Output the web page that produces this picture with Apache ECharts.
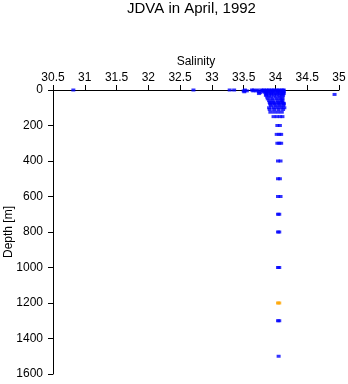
<!DOCTYPE html>
<html>
<head>
<meta charset="utf-8">
<script src="https://cdn.jsdelivr.net/npm/echarts@6/dist/echarts.min.js"></script>
<style>html,body{margin:0;padding:0;background:#fff}#c{width:348px;height:384px}</style>
</head>
<body>
<div id="c"></div>
<script>
// Salinity ticks and depth ticks
var salinityTicks = [30.5, 31, 31.5, 32, 32.5, 33, 33.5, 34, 34.5, 35];
var depthTicks = [0, 200, 400, 600, 800, 1000, 1200, 1400, 1600];

// Blue samples: [salinity, depth]
var blueSalinity = [
  30.82, 32.71, 33.28, 33.35, 33.52, 33.63, 33.66, 33.72, 33.78, 33.82, 33.86, 33.9, 33.94, 33.98, 34.02, 34.06, 34.1, 34.13,
  33.8, 33.88, 33.96, 34.04, 34.12,
  33.5, 33.55, 33.65, 33.7, 33.8, 33.85, 33.92, 34.0, 34.08, 34.12,
  33.51, 33.74, 33.82, 33.88, 33.95, 34.03, 34.1, 34.13,
  33.76, 33.84, 33.9, 33.97, 34.05, 34.12,
  33.74, 33.86, 33.93, 34.0, 34.07, 34.13,
  33.86, 33.94, 34.02, 34.1, 34.93,
  33.85, 33.9, 33.98, 34.06, 34.12,
  33.87, 33.93, 34.0, 34.06, 34.11,
  33.88, 33.95, 34.02, 34.08, 34.11,
  33.9, 33.96, 34.03, 34.09, 34.11,
  33.91, 33.97, 34.04, 34.1,
  33.92, 33.98, 34.05, 34.12, 34.13,
  33.92, 33.99, 34.06, 34.13,
  33.93, 34.0, 34.06, 34.12,
  33.9, 33.97, 34.03, 34.09, 34.14,
  33.91, 33.98, 34.05, 34.12,
  33.92, 33.98, 34.04, 34.1,
  33.97, 34.02, 34.07, 34.11,
  34.03, 34.07,
  34.02, 34.06, 34.09,
  34.03, 34.06, 34.09,
  34.04, 34.08,
  34.04, 34.07,
  34.04, 34.08,
  34.04, 34.06,
  34.04, 34.06,
  34.04, 34.06,
  34.04, 34.06,
  34.05
];
var blueDepth = [
  0, 0, 0, 0, 0, 0, 0, 0, 0, 0, 0, 0, 0, 0, 0, 0, 0, 0,
  2, 2, 2, 2, 2,
  5, 5, 5, 5, 5, 5, 5, 5, 5, 5,
  10, 10, 10, 10, 10, 10, 10, 10,
  15, 15, 15, 15, 15, 15,
  20, 20, 20, 20, 20, 20,
  25, 25, 25, 25, 25,
  30, 30, 30, 30, 30,
  40, 40, 40, 40, 40,
  50, 50, 50, 50, 50,
  60, 60, 60, 60, 60,
  70, 70, 70, 70,
  75, 75, 75, 75, 75,
  80, 80, 80, 80,
  90, 90, 90, 90,
  100, 100, 100, 100, 100,
  110, 110, 110, 110,
  125, 125, 125, 125,
  150, 150, 150, 150,
  200, 200,
  250, 250, 250,
  300, 300, 300,
  400, 400,
  500, 500,
  600, 600,
  700, 700,
  800, 800,
  1000, 1000,
  1300, 1300,
  1500
];
// Orange samples
var orangeSalinity = [34.04, 34.06];
var orangeDepth = [1200, 1200];

function pairs(xs, ys) {
  var out = [];
  for (var i = 0; i < xs.length; i++) out.push([xs[i], ys[i]]);
  return out;
}

var chart = echarts.init(document.getElementById('c'), null, {renderer: 'canvas'});
var font = 'Liberation Sans, Arial, Helvetica, sans-serif';
chart.setOption({
  animation: false,
  backgroundColor: '#fff',
  title: {
    text: 'JDVA in April, 1992',
    left: 127, top: 1, padding: 0,
    textStyle: {fontFamily: font, fontSize: 15, fontWeight: 'normal', color: '#000'}
  },
  grid: {left: 53, right: 9, top: 90, bottom: 10, containLabel: false, outerBoundsMode: 'none'},
  xAxis: {
    type: 'value', position: 'top',
    min: salinityTicks[0], max: salinityTicks[salinityTicks.length - 1], interval: 0.5,
    name: 'Salinity', nameLocation: 'middle', nameGap: 22, nameMoveOverlap: false,
    nameTextStyle: {fontFamily: font, fontSize: 12, color: '#000'},
    axisLine: {show: true, onZero: false, lineStyle: {color: '#000', width: 1}},
    axisTick: {show: true, inside: false, length: 5, lineStyle: {color: '#000'}},
    axisLabel: {fontFamily: font, fontSize: 12, color: '#000', margin: 6,
      formatter: function (v) { return String(v); }},
    splitLine: {show: false}
  },
  yAxis: {
    type: 'value', inverse: true,
    min: depthTicks[0], max: depthTicks[depthTicks.length - 1], interval: 200,
    name: 'Depth [m]', nameLocation: 'middle', nameGap: 38, nameMoveOverlap: false,
    nameTextStyle: {fontFamily: font, fontSize: 12, color: '#000'},
    axisLine: {show: true, onZero: false, lineStyle: {color: '#000', width: 1}},
    axisTick: {show: true, inside: false, length: 5, lineStyle: {color: '#000'}},
    axisLabel: {fontFamily: font, fontSize: 12, color: '#000', margin: 10,
      formatter: function (v) { return String(v); }},
    splitLine: {show: false}
  },
  series: [
    {type: 'scatter', symbol: 'rect', symbolSize: [4, 3], data: pairs(blueSalinity, blueDepth),
     itemStyle: {color: '#0000ff'}},
    {type: 'scatter', symbol: 'rect', symbolSize: [4, 3], data: pairs(orangeSalinity, orangeDepth),
     itemStyle: {color: '#ffa500'}}
  ]
});
</script>
</body>
</html>
